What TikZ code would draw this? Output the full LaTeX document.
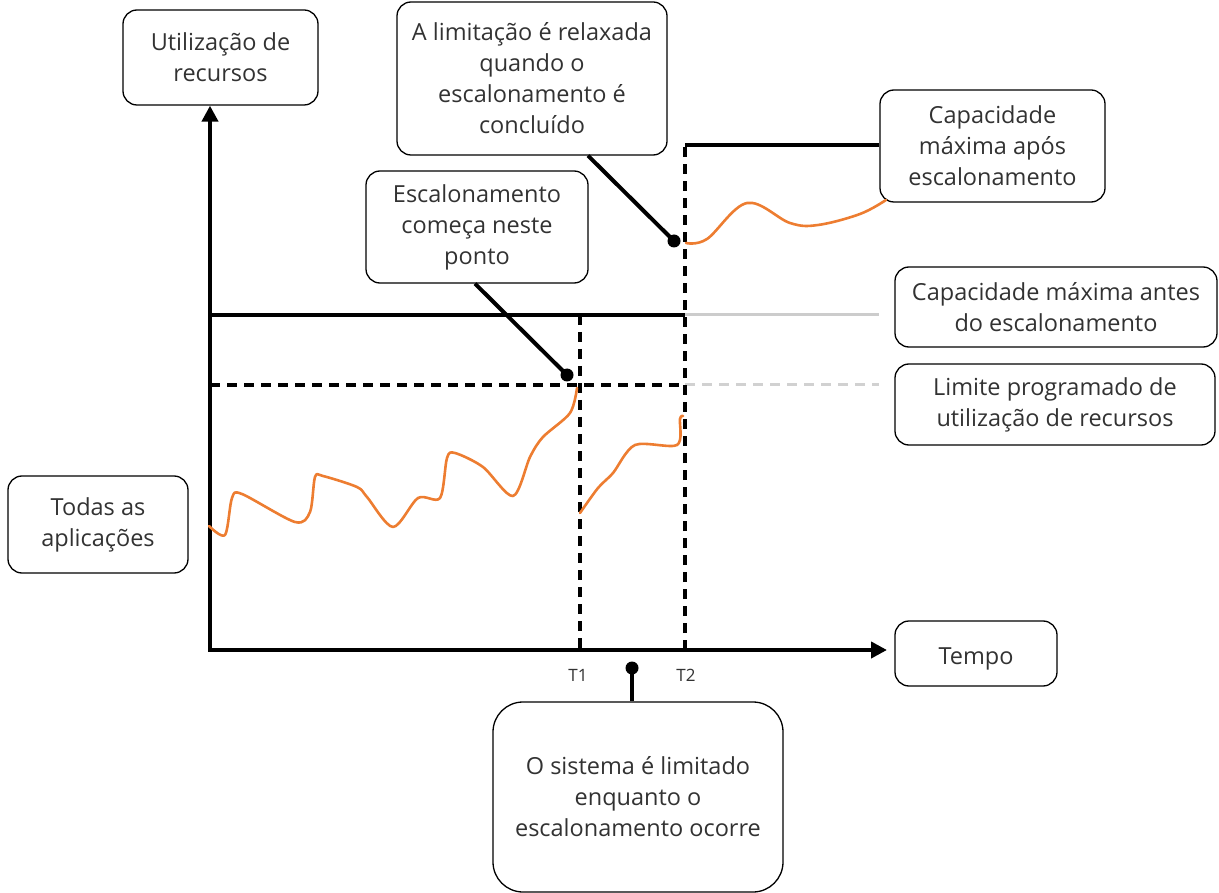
\documentclass[tikz,border=0pt]{standalone}
\usepackage{fontspec}
\setmainfont{Open Sans}
\usetikzlibrary{arrows.meta,calc}
\definecolor{curveor}{RGB}{237,125,49}
\definecolor{txtc}{RGB}{50,50,50}
\begin{document}
\begin{tikzpicture}[x=1pt,y=-1pt,
  box/.style={draw=black,line width=1.3pt,rounded corners=14pt,align=center,text=txtc,
    font=\fontsize{23.5}{31}\selectfont,inner sep=0pt,
    execute at begin node={\rule{0pt}{27pt}}},
  axis/.style={line width=4pt,-{Triangle[length=16pt,width=16pt]}},
  thick4/.style={line width=4pt},
  dash4/.style={line width=4pt,dash pattern=on 10pt off 7pt},
  greyline/.style={line width=3pt,color=black!20},
  greydash/.style={line width=3pt,color=black!18,dash pattern=on 10pt off 7pt},
  callout/.style={line width=4pt},
  dotc/.style={circle,fill=black,inner sep=0pt,minimum size=13pt},
  orange/.style={curveor,line width=2.6pt,line cap=round,line join=round},
  tick/.style={text=txtc,font=\fontsize{17}{19}\selectfont}
]
\useasboundingbox (0,0) rectangle (1219,893);
% boxes
\node[box,minimum width=195pt,minimum height=95pt] (util) at (220.5,57.5) {Utilização de\\recursos};
\node[box,minimum width=270pt,minimum height=153pt] (relax) at (532,78.5) {A limitação é relaxada\\quando o\\escalonamento é\\concluído};
\node[box,minimum width=222pt,minimum height=112pt] (start) at (477,227) {Escalonamento\\começa neste\\ponto};
\node[box,minimum width=225pt,minimum height=112pt] (after) at (992.5,146) {Capacidade\\máxima após\\escalonamento};
\node[box,minimum width=322pt,minimum height=80pt] (before) at (1056,307) {Capacidade máxima antes\\do escalonamento};
\node[box,minimum width=320pt,minimum height=81pt] (limit) at (1055,404.5) {Limite programado de\\utilização de recursos};
\node[box,minimum width=180pt,minimum height=97pt] (todas) at (98,524.5) {Todas as\\aplicações};
\node[box,minimum width=162pt,minimum height=65pt] (tempo) at (976,653.5) {Tempo};
\node[box,rounded corners=30pt,minimum width=290pt,minimum height=190pt] (sist) at (638,797) {O sistema é limitado\\enquanto o\\escalonamento ocorre};
% key coordinates
\coordinate (O) at (210,650);
\coordinate (capL) at (210,315);
\coordinate (capR) at (685,315);
\coordinate (limL) at (210,385);
\coordinate (limR) at (685,385);
\coordinate (t1top) at (580,315);
\coordinate (t1bot) at (580,650);
\coordinate (t2top) at (685,145);
\coordinate (t2bot) at (685,650);
\coordinate (xend) at (887,650);
% grey continuations
\draw[greyline] (capR) -- ([xshift=-15pt]before.west |- capR);
\draw[greydash] (limR) -- ([xshift=-15pt]limit.west |- limR);
% capacity lines
\draw[thick4] (capL) -- (capR);
\draw[dash4] (limL) -- (limR);
\draw[dash4] (t1top) -- (t1bot);
\draw[dash4] (t2bot) -- (t2top);
\draw[thick4] (t2top) -- (after.west |- t2top);
% axes
\draw[axis] (O) -- (O |- util.south);
\draw[axis] ([xshift=-2pt]O) -- (xend);
% ticks
\node[tick] (T1) at (578,675) {T1};
\node[tick] (T2) at (686,675) {T2};
% orange curves
\draw[orange] plot[smooth,tension=0.5] coordinates {(209,526) (225,535) (232,498) (242,494) (295,522) (310,512) (315,477) (323,476) (357,487) (367,497) (393,527) (418,498) (440,498) (447,458) (455,453) (483,467) (513,496) (530,457) (543,437) (570,413) (577,388)};
\draw[orange] plot[smooth,tension=0.5] coordinates {(580,513) (598,488) (613,473) (635,445) (677,445) (680,419) (683,416)};
\draw[orange] plot[smooth,tension=0.6] coordinates {(686,243) (707,239) (747,203) (790,223) (818,225) (860,214) (886,200)};
% callouts
\node[dotc] (d1) at (567,375) {};
\node[dotc] (d2) at (674,241) {};
\node[dotc] (d3) at (632,668) {};
\draw[callout] ([xshift=-2pt]start.south) -- (d1.center);
\draw[callout] ([xshift=56pt]relax.south) -- (d2.center);
\draw[line width=3.5pt] (d3.center) -- (d3 |- sist.north);
\end{tikzpicture}
\end{document}
